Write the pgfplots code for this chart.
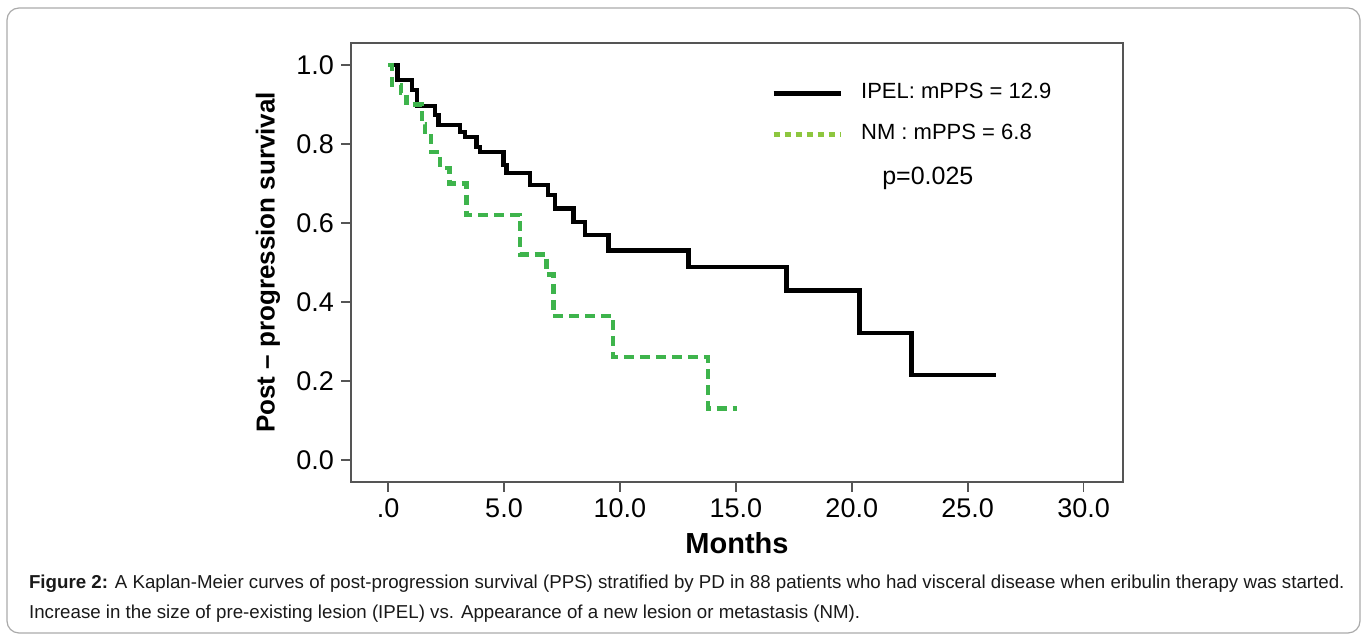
\documentclass[border=0pt]{standalone}
\usepackage{fontspec}
\setmainfont{Liberation Sans}
\usepackage{pgfplots}
\pgfplotsset{compat=1.18}
\definecolor{nmgreen}{RGB}{62,180,76}
\definecolor{nmlegend}{RGB}{141,198,63}
\definecolor{spine}{RGB}{85,85,85}
\definecolor{framegray}{RGB}{170,170,170}

\begin{document}
\begin{tikzpicture}
\useasboundingbox (0,0) rectangle (683.5pt,320.5pt);
\draw[framegray, line width=0.6pt, rounded corners=6pt] (3.5pt,4pt) rectangle (680pt,316.5pt);
\begin{axis}[
  at={(175.5pt,79.5pt)}, anchor=south west,
  scale only axis, width=386pt, height=219.5pt,
  xmin=-1.6, xmax=31.7, ymin=-0.056, ymax=1.056,
  axis line style={spine, line width=0.9pt},
  xtick={0,5,10,15,20,25,30},
  xticklabels={.0,5.0,10.0,15.0,20.0,25.0,30.0},
  ytick={0,0.2,0.4,0.6,0.8,1},
  yticklabels={0.0,0.2,0.4,0.6,0.8,1.0},
  xtick pos=bottom, ytick pos=left,
  tick align=outside, major tick length=5pt,
  tick style={spine, line width=0.9pt},
  tick label style={font=\fontsize{13.5}{16}\selectfont},
  /pgf/number format/assume math mode=true,
  xlabel={Months},
  ylabel={Post – progression survival},
  xlabel style={font=\fontsize{14.5}{17}\selectfont\bfseries, at={(axis description cs:0.5,-0.139)}, anchor=center},
  ylabel style={font=\fontsize{13}{15}\selectfont\bfseries, at={(axis description cs:-0.1075,0.5)}, anchor=center},
  legend style={at={(0.536,0.92)}, anchor=north west, draw=none, fill=none,
    font=\fontsize{11}{13}\selectfont, row sep=10pt,
    nodes={inner sep=0pt, text height=8pt, text depth=2.5pt},
    /tikz/every odd column/.append style={column sep=9pt}},
  legend cell align=left,
  legend image code/.code={\draw[#1] (0pt,0pt) -- (33.5pt,0pt);},
]
% IPEL
\addplot[const plot, black, line width=2.2pt, forget plot] coordinates {
(0,1.0) (0.40,0.962) (1.02,0.937) (1.24,0.897) (2.03,0.873) (2.17,0.848)
(3.10,0.831) (3.32,0.818) (3.82,0.793) (3.97,0.780) (4.97,0.747) (5.11,0.727)
(6.12,0.696) (6.91,0.671) (7.20,0.637) (7.99,0.603) (8.49,0.570) (9.50,0.530)
(12.95,0.489) (17.18,0.429) (20.34,0.322) (22.57,0.215) (26.24,0.215)};
% NM
\addplot[const plot, nmgreen, line width=2.2pt, dash pattern=on 5pt off 3pt, forget plot] coordinates {
(0,1.0) (0.16,0.95) (0.55,0.93) (0.80,0.90) (1.45,0.85) (1.60,0.82)
(1.85,0.78) (2.25,0.74) (2.65,0.70) (3.39,0.62) (5.69,0.52) (6.84,0.47)
(7.13,0.365) (9.71,0.26) (13.80,0.13) (15.03,0.13)};
\addlegendimage{black, line width=2.5pt}
\addlegendentry{IPEL: mPPS = 12.9}
\addlegendimage{nmlegend, line width=2.5pt, dash pattern=on 3pt off 2.5pt}
\addlegendentry{NM : mPPS = 6.8}
\node[font=\fontsize{12.5}{14}\selectfont] at (axis cs:23.28,0.712) {p=0.025};
\end{axis}
\node[anchor=base west, font=\fontsize{9.35}{11}\selectfont, text=black!90] at (11pt,26pt)
  {\textbf{Figure 2:} A Kaplan-Meier curves of post-progression survival (PPS) stratified by PD in 88 patients who had visceral disease when eribulin therapy was started.};
\node[anchor=base west, font=\fontsize{9.35}{11}\selectfont, text=black!90] at (11pt,11pt)
  {Increase in the size of pre-existing lesion (IPEL) vs. Appearance of a new lesion or metastasis (NM).};
\end{tikzpicture}
\end{document}
